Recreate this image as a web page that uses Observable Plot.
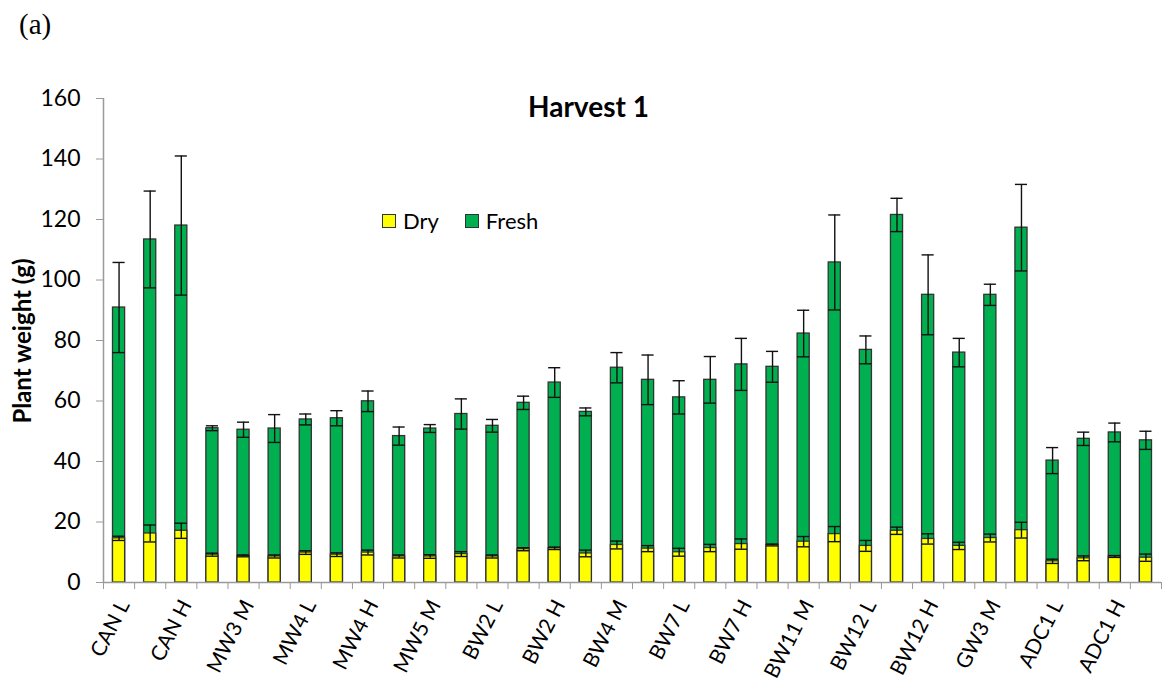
<!DOCTYPE html>
<html><head><meta charset="utf-8">
<script src="https://cdn.jsdelivr.net/npm/d3@7"></script>
<script src="https://cdn.jsdelivr.net/npm/@observablehq/plot@0.6"></script>
<style>
body{margin:0;background:#fff;}
#wrap{position:relative;width:1173px;height:686px;font-family:Lato,sans-serif;color:#000;}
.abs{position:absolute;white-space:nowrap;line-height:1;}
#panel{left:19px;top:10px;font-family:"Liberation Serif","DejaVu Serif",serif;font-size:29px;}
#title{left:528px;top:92px;font-size:28px;font-weight:bold;}
#ylab{left:22px;top:341px;transform:translate(-50%,-50%) rotate(-90deg);font-size:24px;font-weight:bold;}
#legend{left:382px;top:210px;font-size:22px;display:flex;align-items:center;}
.sw{display:inline-block;width:12px;height:12px;border:1.5px solid #333;margin-right:7px;}
#chart{position:absolute;left:0;top:0;}
</style></head><body>
<div id="wrap">
  <div id="chart"></div>
  <div class="abs" id="panel">(a)</div>
  <div class="abs" id="title">Harvest 1</div>
  <div class="abs" id="ylab">Plant weight (g)</div>
  <div class="abs" id="legend"><span class="sw" style="background:#FFFF00"></span><span>Dry</span><span style="display:inline-block;width:26px"></span><span class="sw" style="background:#00B050"></span><span>Fresh</span></div>
</div>
<script>
const categories = ["CAN L","CAN M","CAN H","MW3 L","MW3 M","MW3 H","MW4 L","MW4 M","MW4 H","MW5 L","MW5 M","MW5 H","BW2 L","BW2 M","BW2 H","BW4 L","BW4 M","BW4 H","BW7 L","BW7 M","BW7 H","BW11 L","BW11 M","BW11 H","BW12 L","BW12 M","BW12 H","GW3 L","GW3 M","GW3 H","ADC1 L","ADC1 M","ADC1 H","ADC1 C"];
const fresh    = [90.9,113.4,118.0,51.0,50.5,50.9,53.9,54.3,59.9,48.4,50.9,55.7,51.8,59.4,66.1,56.4,71.0,67.0,61.2,67.0,72.1,71.3,82.3,105.8,76.9,121.5,95.1,76.0,95.1,117.3,40.3,47.5,49.6,47.0];
const freshErr = [14.9,16.0,23.0,0.8,2.5,4.6,1.8,2.5,3.4,3.0,1.3,5.0,2.1,2.2,4.9,1.3,5.0,8.2,5.5,7.7,8.6,5.1,7.7,15.7,4.6,5.5,13.2,4.7,3.5,14.3,4.3,2.2,3.1,3.0];
const dry      = [14.6,16.2,17.1,9.2,8.8,8.6,9.9,9.2,9.9,8.6,8.6,9.4,8.6,11.0,11.3,9.6,12.4,11.2,10.0,11.4,12.7,12.4,13.5,16.0,12.1,17.1,14.4,12.1,14.7,17.3,7.0,8.0,8.6,8.2];
const dryErr   = [0.7,2.8,2.5,0.5,0.3,0.5,0.6,0.6,0.8,0.5,0.6,0.8,0.5,0.5,0.4,1.1,1.3,1.0,1.3,1.2,1.7,0.3,1.7,2.5,1.8,1.2,1.7,1.2,1.3,2.6,0.7,0.8,0.3,1.2];
const yTicks = [0,20,40,60,80,100,120,140,160];

const idx = categories.map((_, i) => i);
const labelled = idx.filter(i => i % 2 === 0);
const inset = 9.5;
const axisGray = "#9a9a9a";

function errMarks(vals, errs) {
  return [
    Plot.ruleX(idx, {x: i => i + 0.5, y1: i => vals[i] - errs[i], y2: i => vals[i] + errs[i], stroke: "#111", strokeWidth: 1.4}),
    Plot.ruleY(idx, {x1: i => i, x2: i => i + 1, y: i => vals[i] + errs[i], insetLeft: inset, insetRight: inset, stroke: "#111", strokeWidth: 1.4}),
    Plot.ruleY(idx, {x1: i => i, x2: i => i + 1, y: i => vals[i] - errs[i], insetLeft: inset, insetRight: inset, stroke: "#111", strokeWidth: 1.4})
  ];
}

const chart = Plot.plot({
  width: 1173,
  height: 686,
  marginLeft: 103,
  marginRight: 12,
  marginTop: 98,
  marginBottom: 104,
  style: {fontFamily: "Lato, sans-serif", background: "transparent"},
  x: {type: "linear", domain: [0, categories.length]},
  y: {domain: [0, 160]},
  marks: [
    Plot.rectY(idx, {x1: i => i, x2: i => i + 1, y1: 0, y2: i => fresh[i], fill: "#00B050", stroke: "#333", strokeWidth: 1.3, insetLeft: inset, insetRight: inset}),
    Plot.rectY(idx, {x1: i => i, x2: i => i + 1, y1: 0, y2: i => dry[i], fill: "#FFFF00", stroke: "#333", strokeWidth: 1.3, insetLeft: inset, insetRight: inset}),
    ...errMarks(fresh, freshErr),
    ...errMarks(dry, dryErr),
    Plot.ruleX([0], {stroke: axisGray, strokeWidth: 1.5}),
    Plot.ruleY([0], {stroke: axisGray, strokeWidth: 1.5}),
    Plot.axisY({ticks: yTicks, tickSize: 7, tickPadding: 16, fontSize: 23, stroke: axisGray, label: null, tickFormat: d => String(d)}),
    Plot.axisX({ticks: d3.range(categories.length + 1), tickSize: 7, tickFormat: () => "", stroke: axisGray, label: null}),
    Plot.axisX({ticks: labelled.map(i => i + 0.5), tickSize: 0, tickPadding: 19, dx: 5, tickRotate: -63, fontSize: 21, tickFormat: v => categories[Math.round(v - 0.5)], label: null})
  ]
});
document.getElementById("chart").appendChild(chart);
</script>
</body></html>
